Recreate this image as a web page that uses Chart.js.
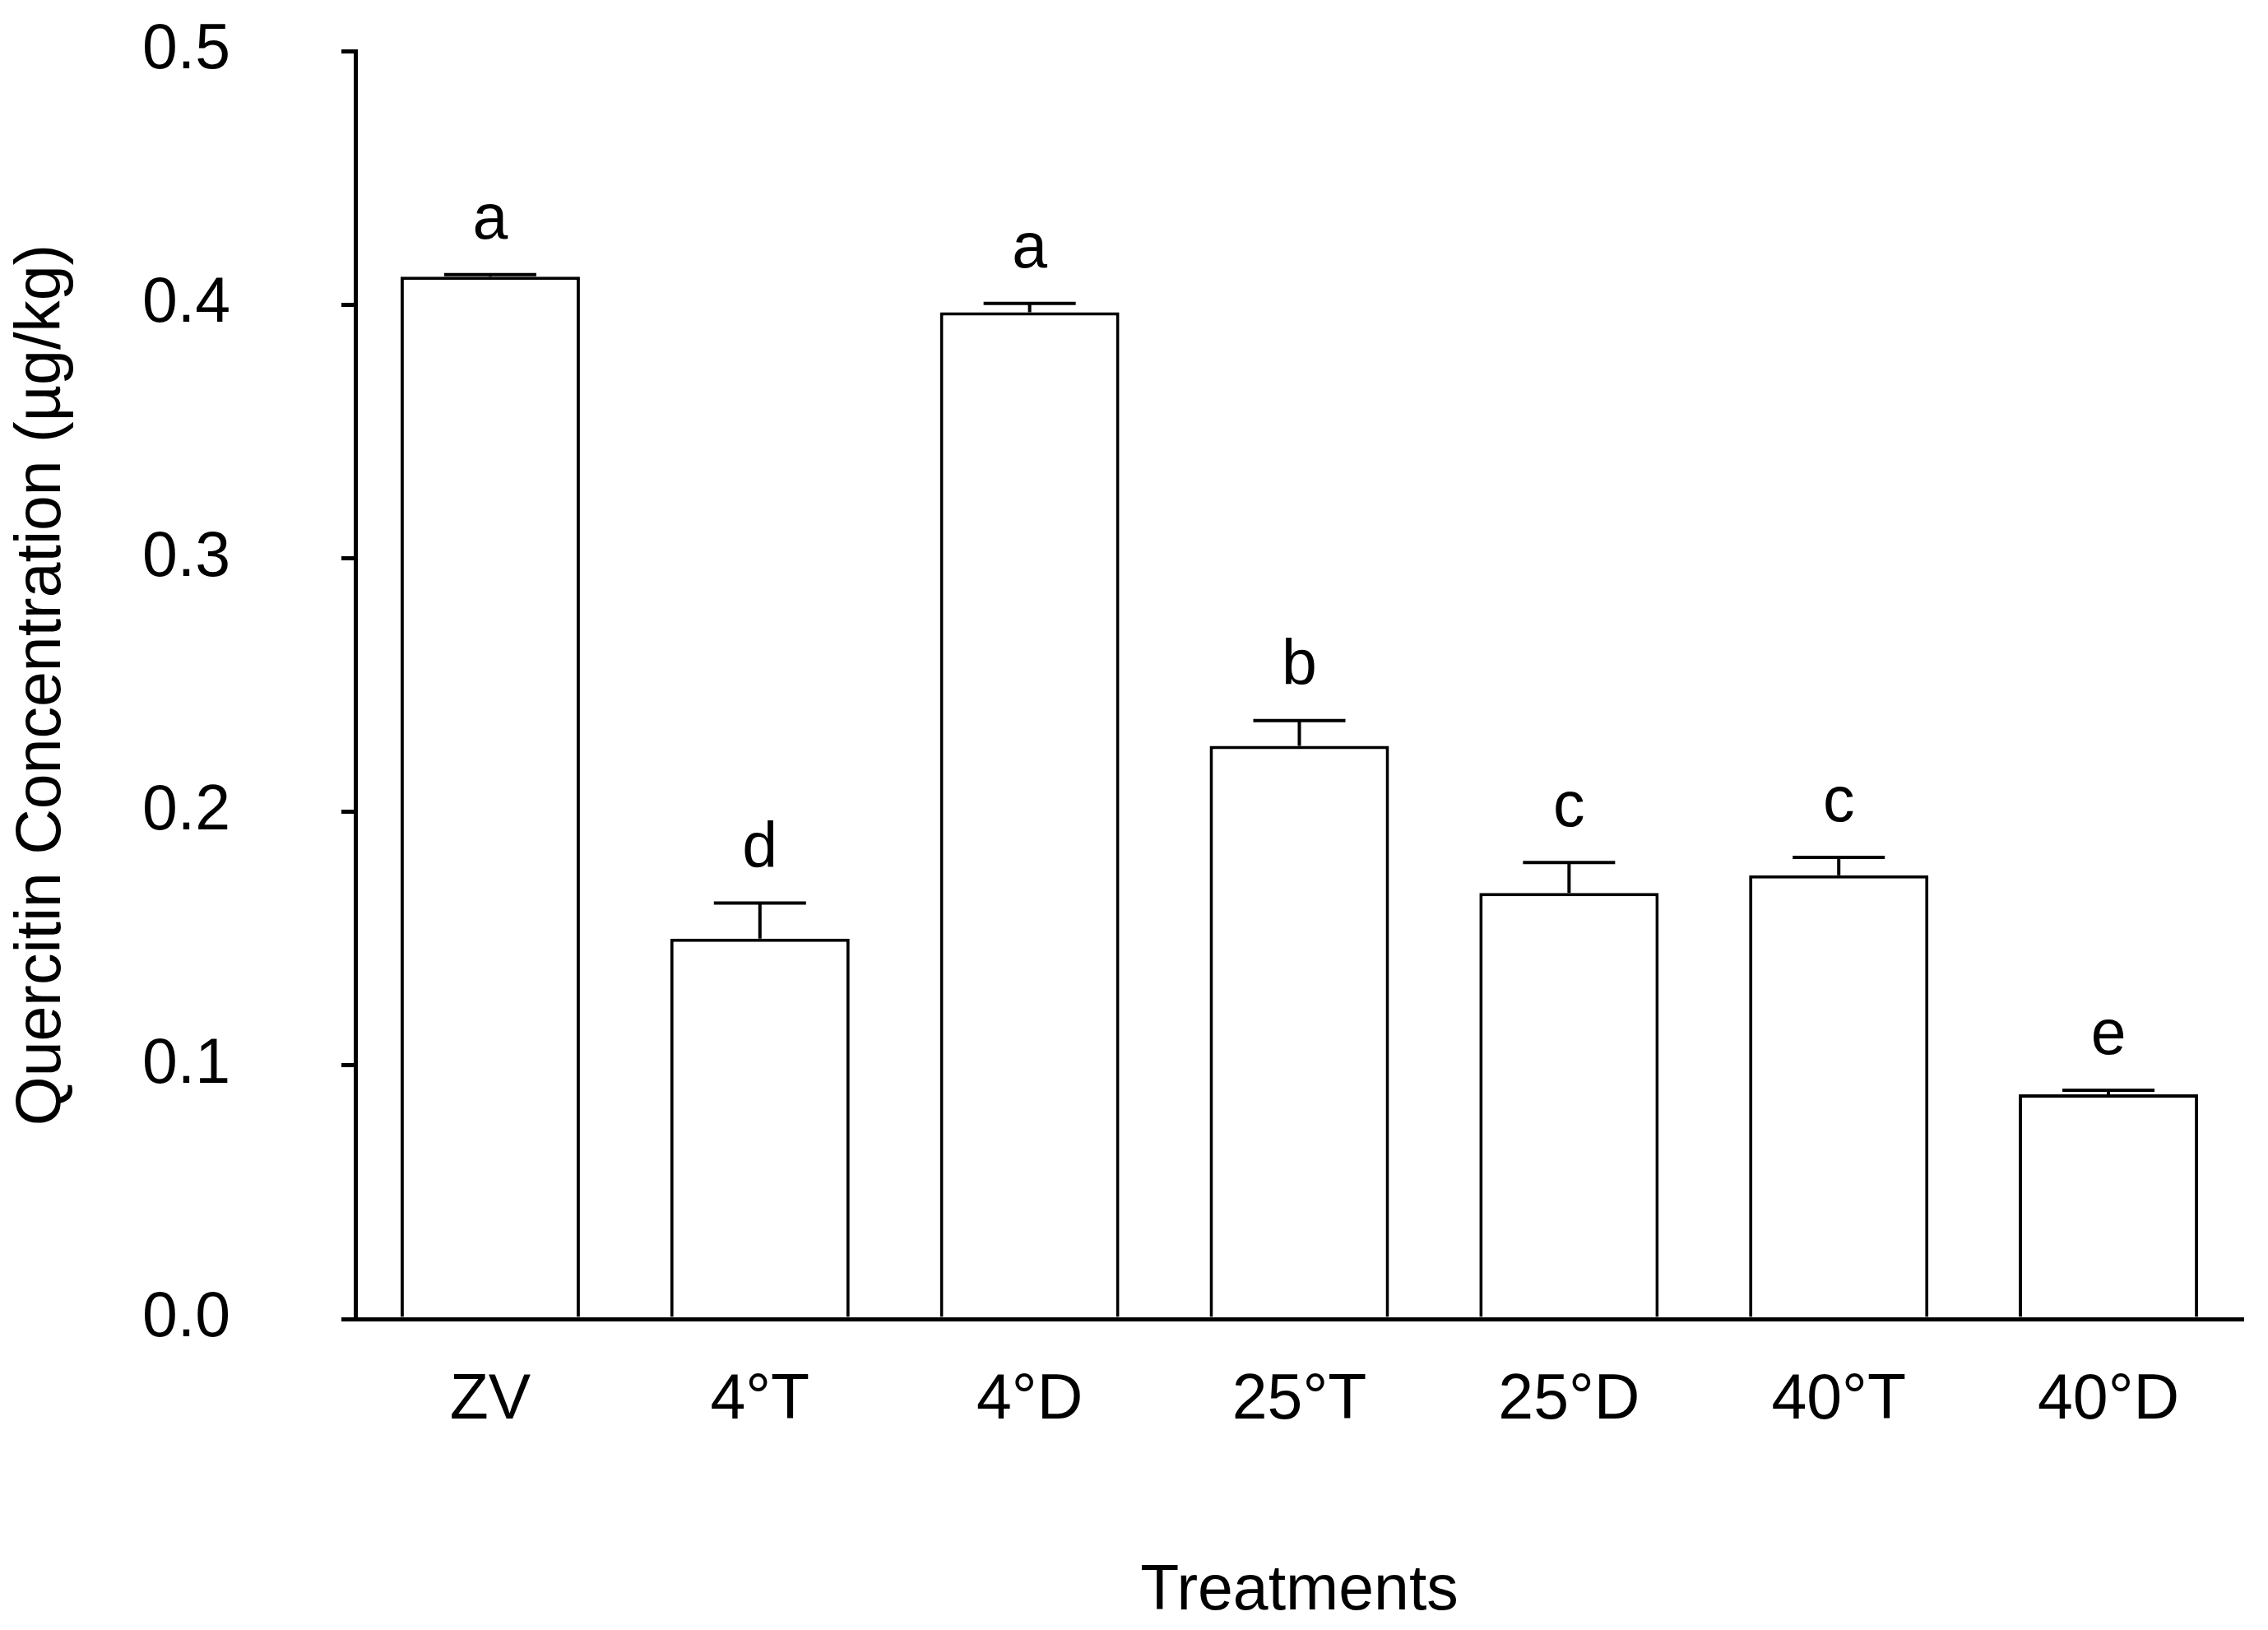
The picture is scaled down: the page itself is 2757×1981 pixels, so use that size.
<!DOCTYPE html>
<html>
<head>
<meta charset="utf-8">
<script src="https://cdn.jsdelivr.net/npm/chart.js@4.4.1/dist/chart.umd.min.js"></script>
<style>
  html, body { margin: 0; padding: 0; background: #fff; }
  #wrap { width: 2757px; height: 1981px; }
</style>
</head>
<body>
<div id="wrap"><canvas id="quercitinChart"></canvas></div>
<script>
// values
const treatments = ['ZV', '4°T', '4°D', '25°T', '25°D', '40°T', '40°D'];
const quercitin = [0.411, 0.150, 0.397, 0.226, 0.168, 0.175, 0.0886];
const stdErr = [0.0008, 0.014, 0.0035, 0.010, 0.012, 0.007, 0.0016];
const groupLetters = ['a', 'd', 'a', 'b', 'c', 'c', 'e'];
const yTicks = [0.0, 0.1, 0.2, 0.3, 0.4, 0.5];

const FONT = '"Liberation Sans", Arial, sans-serif';
Chart.defaults.color = '#000';
Chart.defaults.font.family = FONT;

// upper error bars + significance letters
const errorBars = {
  id: 'errorBars',
  afterDatasetsDraw(chart) {
    const ctx = chart.ctx;
    const y = chart.scales.y;
    const bars = chart.getDatasetMeta(0).data;
    ctx.save();
    ctx.strokeStyle = '#000';
    ctx.lineWidth = 4;
    ctx.fillStyle = '#000';
    ctx.font = '77px ' + FONT;
    ctx.textAlign = 'center';
    ctx.textBaseline = 'alphabetic';
    bars.forEach(function (bar, i) {
      const top = y.getPixelForValue(quercitin[i]);
      const cap = y.getPixelForValue(quercitin[i] + stdErr[i]);
      ctx.beginPath();
      ctx.moveTo(bar.x, top);
      ctx.lineTo(bar.x, cap);
      ctx.moveTo(bar.x - 56, cap);
      ctx.lineTo(bar.x + 56, cap);
      ctx.stroke();
      ctx.fillText(groupLetters[i], bar.x, cap - 44);
    });
    ctx.restore();
  }
};

const ctx = document.getElementById('quercitinChart').getContext('2d');
const chart = new Chart(ctx, {
  type: 'bar',
  data: {
    labels: treatments,
    datasets: [{
      label: 'Quercitin',
      data: quercitin,
      backgroundColor: '#fff',
      borderColor: '#000',
      borderWidth: 4,
      categoryPercentage: 1.0,
      barPercentage: 0.665
    }]
  },
  options: {
    responsive: true,
    maintainAspectRatio: false,
    animation: false,
    layout: { padding: { top: 62, right: 30, left: 0, bottom: 0 } },
    plugins: {
      legend: { display: false },
      tooltip: { enabled: false }
    },
    scales: {
      x: {
        grid: { display: false, drawTicks: false },
        border: { display: true, color: '#000', width: 5 },
        ticks: { font: { size: 77 }, padding: 54 },
        title: {
          display: true,
          text: 'Treatments',
          font: { size: 77 },
          padding: { top: 13, bottom: 0 }
        },
        afterFit: function (scale) { scale.height = 378; }
      },
      y: {
        min: 0,
        max: 0.5,
        afterBuildTicks: function (scale) {
          scale.ticks = yTicks.map(function (v) { return { value: v }; });
        },
        grid: {
          drawOnChartArea: false,
          drawTicks: true,
          tickLength: 17,
          color: '#000',
          lineWidth: 5
        },
        border: { display: true, color: '#000', width: 5 },
        ticks: {
          font: { size: 77 },
          padding: 135,
          callback: function (value) { return Number(value).toFixed(1); }
        },
        title: {
          display: true,
          text: 'Quercitin Concentration (µg/kg)',
          font: { size: 77 },
          padding: { top: 6, bottom: 0 }
        },
        afterFit: function (scale) {
          scale.width = 432;
          // tick padding is horizontal only here, keep it out of the top/bottom margins
          scale.paddingTop = 46;
          scale.paddingBottom = 46;
        }
      }
    }
  },
  plugins: [errorBars]
});
</script>
</body>
</html>
